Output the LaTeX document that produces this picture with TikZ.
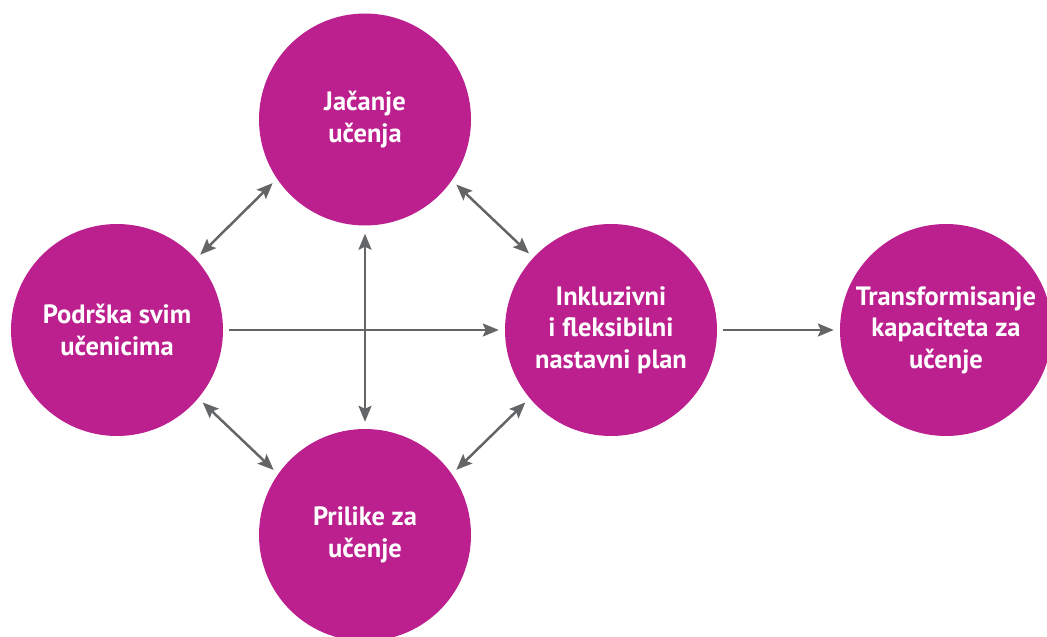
\documentclass[tikz,border=0pt]{standalone}
\usepackage{fontspec}
\setmainfont{PT Sans}
\usetikzlibrary{arrows.meta}
\definecolor{krugboja}{RGB}{188,32,142}
\definecolor{strelboja}{RGB}{100,101,103}

\begin{document}
\begin{tikzpicture}[x=1bp,y=-1bp]
\tikzset{
  krug/.style = {circle, fill=krugboja, minimum size=212bp, inner sep=0pt,
    text=white, align=center, font=\fontsize{26.5bp}{31.5bp}\selectfont\bfseries},
  veza/.style = {draw=strelboja, line width=2.5bp, shorten >=6bp, shorten <=6bp},
  dvo/.style = {veza, {Stealth[length=16bp,width=13bp,inset=3bp]}-{Stealth[length=16bp,width=13bp,inset=3bp]}},
  jedno/.style = {veza, -{Stealth[length=16bp,width=13bp,inset=3bp]}}
}
\useasboundingbox (0,0) rectangle (1047,637);
\clip (0,0) rectangle (1047,637);
% krugovi
\node[krug] (jacanje) at (365,119.5) {Jačanje\\učenja};
\node[krug] (podrska) at (117,330) {Podrška svim\\učenicima};
\node[krug] (plan) at (611,330) {Inkluzivni\\i fleksibilni\\nastavni plan};
\node[krug] (transf) at (946,330) {Transformisanje\\kapaciteta za\\učenje};
\node[krug] (prilike) at (365,535) {Prilike za\\učenje};
% strelice
\draw[dvo] (podrska.42) -- (jacanje.214);
\draw[dvo] (jacanje.325) -- (plan.137);
\draw[dvo] (podrska.320) -- (prilike.145);
\draw[dvo] (prilike.35) -- (plan.220);
\draw[dvo, shorten >=7bp, shorten <=8bp] (jacanje.south) -- (prilike.north);
\draw[jedno] (podrska.east) -- (plan.west);
\draw[jedno] (plan.east) -- (transf.west);
\end{tikzpicture}
\end{document}
